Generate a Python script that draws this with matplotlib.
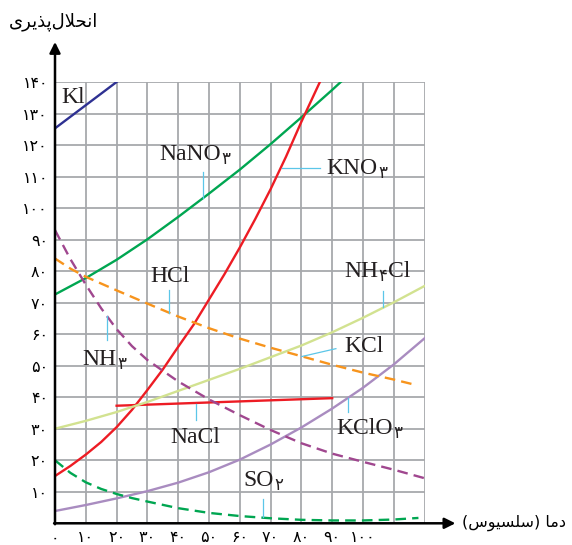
import matplotlib
matplotlib.use("Agg")
from matplotlib import pyplot as plt

# solubility curves, values (x = temperature, y = grams)
KI_T = [0, 20]
KI_S = [125.3, 140]

NANO3_T = [0, 10, 20, 30, 40, 50, 60, 70, 80, 90, 93]
NANO3_S = [72.6, 77.8, 83.6, 90.1, 97.2, 104.6, 112.2, 120.3, 128.8, 137.5, 140.2]

KNO3_T = [0, 5, 10, 15, 20, 25, 30, 35, 40, 45, 50, 55, 60, 65, 70, 75, 80, 86]
KNO3_S = [15, 18.2, 21.8, 25.8, 30.5, 36, 42.3, 48.8, 56, 63, 71, 79, 87.5,
          96.5, 106, 116.3, 127.4, 140]

NACL_T = [20, 90]
NACL_S = [37.3, 39.7]

HCL_T = [0, 5, 10, 20, 30, 40, 50, 60, 70, 80, 90, 100, 110, 117.5]
HCL_S = [84, 80.8, 78.2, 73.9, 69.7, 65.6, 61.9, 58.6, 55.7, 53, 50.3,
         47.8, 45.6, 43.8]

NH3_T = [0, 5, 10, 15, 20, 25, 30, 40, 50, 60, 70, 80, 90, 100, 110, 120]
NH3_S = [93, 83.8, 75.7, 68.2, 61.6, 56.2, 51.8, 45, 39.3, 34.3, 29.6, 25.4,
         22.1, 19.5, 17, 14.3]

NH4CL_T = [0, 10, 20, 30, 40, 50, 60, 70, 80, 90, 100, 110, 120]
NH4CL_S = [30, 32.5, 35.3, 38.5, 42, 45.5, 49, 52.7, 56.4, 60.6, 65.2, 70.1, 75.3]

KCLO3_T = [0, 10, 20, 30, 40, 50, 60, 70, 80, 90, 100, 110, 120]
KCLO3_S = [3.9, 5.8, 7.9, 10.2, 12.9, 16.2, 20.2, 25, 30.4, 36.4, 43, 50.4, 58.7]

SO2_T = [0, 5, 10, 15, 20, 25, 30, 40, 50, 60, 70, 80, 90, 100, 110, 118]
SO2_S = [20, 16, 13, 10.9, 9.3, 8, 6.9, 4.8, 3.3, 2.3, 1.6, 1.1, 0.9, 0.9,
         1.2, 1.7]

X_TICKS = list(range(0, 130, 10))
Y_TICKS = list(range(0, 150, 10))

FA_DIGITS = str.maketrans("0123456789", "۰۱۲۳۴۵۶۷۸۹")

# Persian axis titles, written in shaped presentation forms / visual order
Y_TITLE = "\uFBFC\uFEAE\uFBFE\uFEAC\uFB58\uFEDD\uFEFC\uFEA4\uFEE7\uFE8D"
X_TITLE = "(\uFEB1\uFEEE\uFBFF\uFEB4\uFEE0\uFEB3) \uFE8E\uFEE3\uFEA9"

LEAD = "#5bc6e8"
SERIF = "Liberation Serif"
FA = ["DejaVu Sans"]

fig = plt.figure(figsize=(5.72, 5.45), dpi=100)
ax = fig.add_axes([55 / 572, 21.7 / 545, 369.6 / 572, 441.3 / 545])
ax.set_xlim(0, 120)
ax.set_ylim(0, 140)
for s in ax.spines.values():
    s.set_visible(False)

ax.set_xticks(X_TICKS)
ax.set_yticks(Y_TICKS)
ax.set_xticklabels([str(t).translate(FA_DIGITS) if t <= 100 else "" for t in X_TICKS],
                   family=FA, fontsize=11.5)
ax.set_yticklabels([str(t).translate(FA_DIGITS) if t > 0 else "" for t in Y_TICKS],
                   family=FA, fontsize=11.5)
ax.tick_params(length=0)
ax.tick_params(axis="x", pad=5)
ax.tick_params(axis="y", pad=5)
ax.grid(color="#a7a9ac", lw=1.3)
ax.set_axisbelow(True)

lw = 1.7
dash = (4.5, 2.6)
ax.plot(KI_T, KI_S, color="#2e3192", lw=lw)
ax.plot(NANO3_T, NANO3_S, color="#00a651", lw=lw)
ax.plot(KNO3_T, KNO3_S, color="#ed1c24", lw=lw)
ax.plot(NACL_T, NACL_S, color="#ed1c24", lw=lw)
ax.plot(NH4CL_T, NH4CL_S, color="#d2e290", lw=lw)
ax.plot(KCLO3_T, KCLO3_S, color="#a98cc0", lw=lw)
ax.plot(HCL_T, HCL_S, color="#f7941d", lw=lw, dashes=dash)
ax.plot(NH3_T, NH3_S, color="#a0478f", lw=lw, dashes=dash)
ax.plot(SO2_T, SO2_S, color="#00a651", lw=lw, dashes=dash)

# axis arrows
arr = dict(arrowstyle="-|>", color="black", lw=1.8, mutation_scale=16,
           shrinkA=0, shrinkB=0)
ax.annotate("", xy=(0, 152.7), xytext=(0, -0.3), arrowprops=arr,
            annotation_clip=False)
ax.annotate("", xy=(130, 0), xytext=(-0.3, 0), arrowprops=arr,
            annotation_clip=False)

ax.text(-0.6, 159, Y_TITLE, family=FA, fontsize=13, ha="center", va="center",
        clip_on=False)
ax.text(149.0, 0.3, X_TITLE, family=FA, fontsize=11.5, ha="center", va="center",
        clip_on=False)


def formula(x, y, parts):
    # parts: list of (text, is_subscript)
    base = None
    prev = None
    for txt, sub in parts:
        if prev is None:
            prev = ax.text(x, y, txt, family=SERIF, fontsize=17, ha="left",
                           va="baseline", color="#231f20")
            base = prev
        elif sub:
            prev = ax.annotate(txt, xy=(1, 0), xycoords=prev, xytext=(0.5, -2),
                               textcoords="offset points", family=FA,
                               fontsize=12, ha="left", va="bottom",
                               color="#231f20")
        else:
            prev = ax.annotate(txt, xy=(1, 0), xycoords=(prev, base),
                               xytext=(0.5, 0), textcoords="offset points",
                               family=SERIF, fontsize=17, ha="left",
                               va="bottom", color="#231f20")


formula(2.2, 133.2, [("Kl", False)])
formula(33.9, 115.3, [("NaNO", False), ("۳", True)])
formula(88.0, 110.8, [("KNO", False), ("۳", True)])
formula(31.0, 76.5, [("HCl", False)])
formula(9.0, 50.2, [("NH", False), ("۳", True)])
formula(93.8, 78.0, [("NH", False), ("۴", True), ("Cl", False)])
formula(93.8, 54.4, [("KCl", False)])
formula(91.2, 28.2, [("KClO", False), ("۳", True)])
formula(37.6, 25.4, [("NaCl", False)])
formula(61.1, 11.8, [("SO", False), ("۲", True)])

# leader lines from labels to curves
LEADERS = [
    ((47.9, 47.9), (103.1, 111.5)),
    ((73.6, 86.0), (112.6, 112.6)),
    ((37.1, 37.1), (74.0, 66.6)),
    ((17.0, 17.0), (65.8, 58.2)),
    ((106.4, 106.4), (73.8, 68.5)),
    ((80.1, 91.2), (52.9, 55.4)),
    ((95.2, 95.2), (39.7, 35.4)),
    ((45.8, 45.8), (38.0, 32.8)),
    ((67.6, 67.6), (7.6, 1.9)),
]
for xs, ys in LEADERS:
    ax.plot(xs, ys, color=LEAD, lw=0.9)

fig.savefig("out.png", dpi=100)
